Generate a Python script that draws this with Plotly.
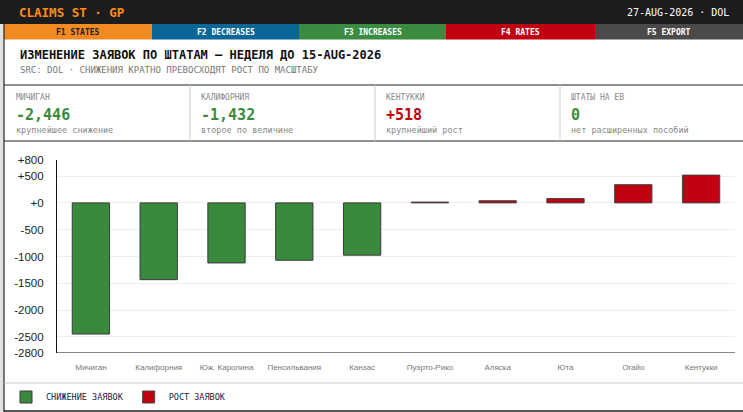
import plotly.graph_objects as go

# ---- data ----
states = ["Мичиган", "Калифорния", "Юж. Каролина", "Пенсильвания", "Канзас",
          "Пуэрто-Рико", "Аляска", "Юта", "Огайо", "Кентукки"]
changes = [-2446, -1432, -1120, -1070, -975, 15, 40, 80, 340, 518]

tick_vals = [800, 500, 0, -500, -1000, -1500, -2000, -2500, -2800]
tick_text = ["+800", "+500", "+0", "-500", "-1000", "-1500", "-2000", "-2500", "-2800"]

tabs = ["F1 STATES", "F2 DECREASES", "F3 INCREASES", "F4 RATES", "F5 EXPORT"]
tab_colors = ["#f28a22", "#0b6596", "#3b8c40", "#c00010", "#4a4a4a"]
tab_text_colors = ["#222222", "white", "white", "white", "white"]

kpi_labels = ["МИЧИГАН", "КАЛИФОРНИЯ", "КЕНТУККИ", "ШТАТЫ НА EB"]
kpi_values = ["-2,446", "-1,432", "+518", "0"]
kpi_notes = ["крупнейшее снижение", "второе по величине", "крупнейший рост",
             "нет расширенных пособий"]

GREEN, RED = "#3a8a3e", "#c00010"
MONO = "DejaVu Sans Mono"
SANS = "Liberation Sans"
kpi_colors = [GREEN, GREEN, RED, GREEN]

W, H = 743, 412
L, R, T, B = 57, 8, 160, 59
PW, PH = W - L - R, H - T - B


def X(p):
    return (p - L) / PW


def Y(p):
    return (H - B - p) / PH


fig = go.Figure()
fig.add_trace(go.Bar(
    x=states, y=[v if v < 0 else None for v in changes],
    name="СНИЖЕНИЕ ЗАЯВОК", marker=dict(color=GREEN, line=dict(color="#3a3a3a", width=1)),
))
fig.add_trace(go.Bar(
    x=states, y=[v if v >= 0 else None for v in changes],
    name="РОСТ ЗАЯВОК", marker=dict(color=RED, line=dict(color="#444444", width=1)),
))

shapes, annos = [], []


def rect(x0, y0, x1, y1, color):
    shapes.append(dict(type="rect", xref="paper", yref="paper", layer="below",
                       x0=X(x0), x1=X(x1), y0=Y(y0), y1=Y(y1),
                       fillcolor=color, line=dict(width=0)))


def hline(y, x0, x1, color, width=1):
    shapes.append(dict(type="line", xref="paper", yref="paper",
                       x0=X(x0), x1=X(x1), y0=Y(y), y1=Y(y),
                       line=dict(color=color, width=width)))


def vline(x, y0, y1, color, width=1):
    shapes.append(dict(type="line", xref="paper", yref="paper",
                       x0=X(x), x1=X(x), y0=Y(y0), y1=Y(y1),
                       line=dict(color=color, width=width)))


def text(x, y, s, size, color, bold=False, anchor="left", font=MONO):
    if bold:
        s = f"<b>{s}</b>"
    annos.append(dict(xref="paper", yref="paper", x=X(x), y=Y(y), text=s,
                      showarrow=False, xanchor=anchor, yanchor="middle",
                      font=dict(family=font, size=size, color=color)))


# header bar
rect(0, 0, W, 24, "#1c1c1c")
text(17, 12.5, "CLAIMS ST · GP", 12.5, "#ff8c1a", bold=True)
text(731, 12.5, "27-AUG-2026 · DOL", 10, "white", anchor="right")

# tabs
edges = [4, 152, 299, 446, 595, W]
for i, name in enumerate(tabs):
    rect(edges[i], 24, edges[i + 1], 39.5, tab_colors[i])
    text((edges[i] + edges[i + 1]) / 2, 32, name, 8, tab_text_colors[i], bold=True, anchor="center")

# left frame
rect(0, 24, 4, H, "#e2e2e2")
vline(4, 24, H, "#222222", 1.2)

# titles
text(18, 55, "ИЗМЕНЕНИЕ ЗАЯВОК ПО ШТАТАМ — НЕДЕЛЯ ДО 15-AUG-2026", 12, "#111111", bold=True)
text(18, 70, "SRC: DOL · СНИЖЕНИЯ КРАТНО ПРЕВОСХОДЯТ РОСТ ПО МАСШТАБУ", 9, "#777777")

# KPI strip
hline(85, 4, W, "#222222", 1.2)
hline(141, 4, W, "#222222", 1.2)
kpi_x = [14, 199, 384, 569]
for i in range(4):
    if i > 0:
        vline(kpi_x[i] - 9, 85, 141, "#cccccc", 1)
    text(kpi_x[i], 97, kpi_labels[i], 8, "#888888")
    text(kpi_x[i], 115, kpi_values[i], 15, kpi_colors[i], bold=True)
    text(kpi_x[i], 130, kpi_notes[i], 8.5, "#888888")

# legend area separators
hline(383, 4, W, "#cccccc", 1)
hline(411, 4, W, "#222222", 1.5)

fig.update_layout(
    width=W, height=H,
    margin=dict(l=L, r=R, t=T, b=B),
    paper_bgcolor="white", plot_bgcolor="white",
    barmode="relative", bargap=0.45,
    shapes=shapes, annotations=annos,
    showlegend=True,
    legend=dict(orientation="h", xref="container", yref="container",
                x=6 / W, y=1 - 397 / H, xanchor="left", yanchor="middle",
                font=dict(family=MONO, size=8.5, color="#222244"),
                itemwidth=30, bgcolor="rgba(0,0,0,0)"),
    xaxis=dict(showgrid=False, showline=False, ticks="", ticklabelstandoff=8,
               tickfont=dict(family=SANS, size=8, color="#777777"), fixedrange=True),
    yaxis=dict(range=[-2800, 800], tickvals=tick_vals, ticktext=tick_text,
               showgrid=True, gridcolor="#eeeeee", zeroline=False,
               showline=True, linecolor="#111111", linewidth=1.2,
               ticks="", ticklabelstandoff=10,
               tickfont=dict(family=SANS, size=11.5, color="#222222")),
)
fig.add_hline(y=-2800, line=dict(color="#111111", width=1.2))

fig.write_html("out.html", config={"displayModeBar": False},
               post_script="document.body.style.margin='0px';")
